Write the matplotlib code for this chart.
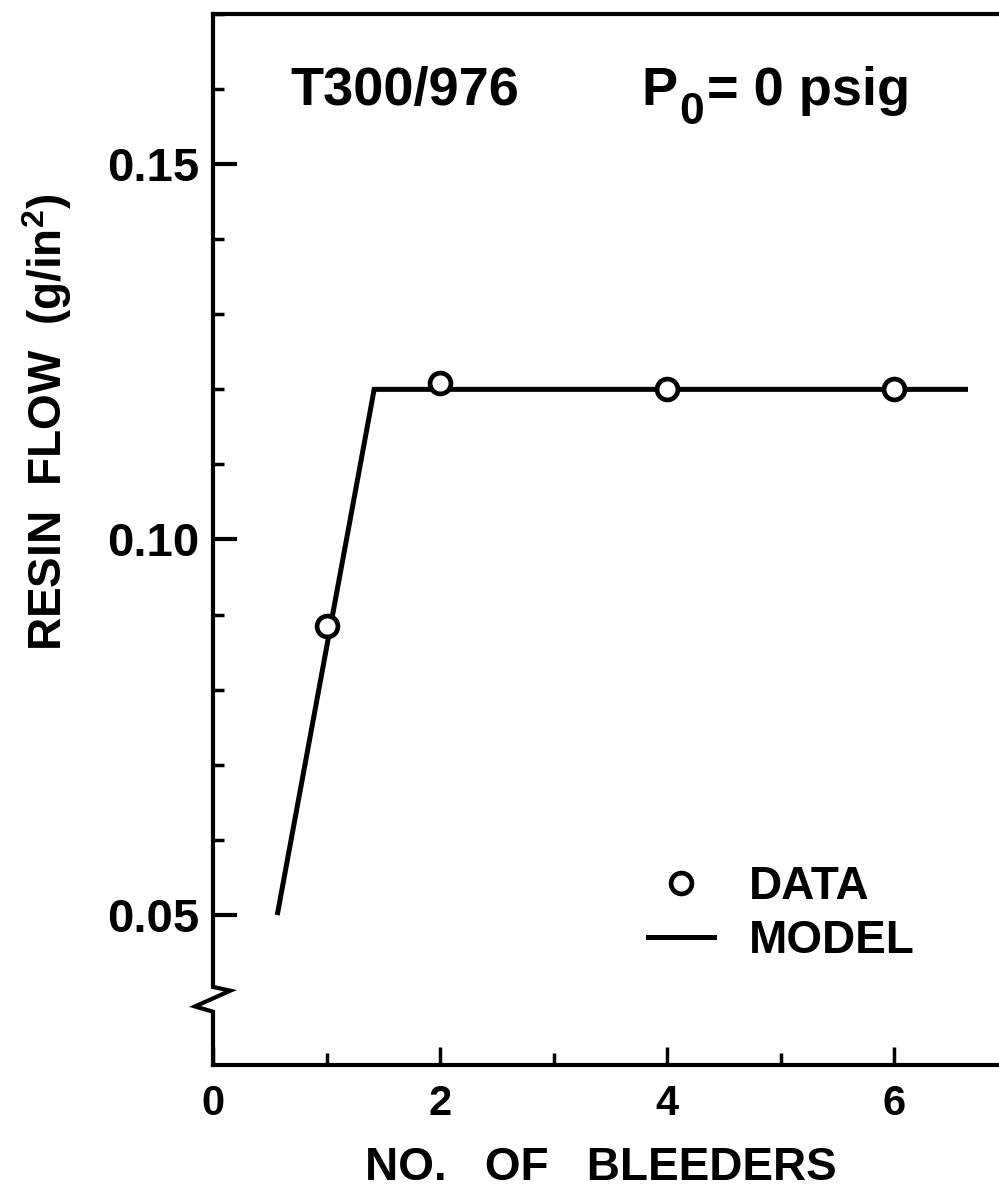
import numpy as np
import matplotlib.pyplot as plt

plt.rcParams['font.family'] = ['Liberation Sans', 'DejaVu Sans']
plt.rcParams['font.weight'] = 'bold'
plt.rcParams['mathtext.fontset'] = 'custom'
plt.rcParams['mathtext.rm'] = 'Liberation Sans:bold'

# data
bleeders = [1, 2, 4, 6]
flow = [0.0885, 0.1208, 0.1201, 0.1201]
model_x = [0.57, 1.42, 6.63]
model_y = [0.0503, 0.1200, 0.1200]

xticks = [0, 2, 4, 6]
yticks = [0.05, 0.10, 0.15]
ytick_labels = ['0.05', '0.10', '0.15']

fig = plt.figure(figsize=(9.99, 11.92), dpi=100)
ax = fig.add_axes([213/999, 1 - 1065/1192, 1 - 213/999, (1065 - 14)/1192])

ax.set_xlim(0, 786/113.5)
ax.set_ylim(0.030, 0.170)

model, = ax.plot(model_x, model_y, color='black', lw=3.6,
                 solid_joinstyle='miter', label='MODEL', zorder=2)
data, = ax.plot(bleeders, flow, ls='none', marker='o', ms=15, mew=3.4,
                mfc='white', mec='black', label='DATA', zorder=3)

# spines
ax.spines['right'].set_visible(False)
ax.spines['left'].set_visible(False)
for s in ['top', 'bottom']:
    ax.spines[s].set_linewidth(3)

# left spine with the axis break
tr = ax.get_yaxis_transform()
brk_x = [0, 0, 0.022, -0.023, 0, 0]
brk_y = [0.170, 0.0404, 0.0399, 0.0378, 0.0371, 0.030]
ax.plot(brk_x, brk_y, color='black', lw=3, transform=tr, clip_on=False,
        solid_joinstyle='miter', zorder=5)

ax.set_xticks(xticks)
ax.set_xticks([1, 3, 5], minor=True)
ax.set_yticks(yticks)
ax.set_yticklabels(ytick_labels)
ax.set_yticks(np.arange(0.06, 0.17, 0.01), minor=True)

ax.tick_params(axis='x', which='major', direction='in', length=13, width=2.5,
               labelsize=30, pad=14)
ax.tick_params(axis='x', which='minor', direction='in', length=9, width=2.5)
ax.tick_params(axis='y', which='major', direction='in', length=17, width=3,
               labelsize=34, pad=10)
ax.tick_params(axis='y', which='minor', direction='in', length=8, width=2.5)

fig.text(601/999, 2/1192, 'NO.   OF   BLEEDERS', ha='center',
         va='bottom', fontsize=33, fontweight='bold')
fig.text(0.047, 1 - 422/1192, r'RESIN  FLOW  (g/in$^\mathregular{2}$)',
         rotation=90, ha='center', va='center', fontsize=33, fontweight='bold')

ax.text(0.098, 0.9134, 'T300/976', transform=ax.transAxes, fontsize=39,
        fontweight='bold', va='baseline')

# P0 = 0 psig, with a large, low subscript
tp = ax.text(0.545, 0.9134, 'P', transform=ax.transAxes, fontsize=39,
             fontweight='bold', va='baseline')
t0 = ax.annotate('0', xy=(1, 0), xycoords=tp, xytext=(1.5, -12),
                 textcoords='offset points', fontsize=32, fontweight='bold',
                 va='bottom')
ax.annotate('= 0 psig', xy=(1, 0), xycoords=(t0, tp), xytext=(2, 0),
            textcoords='offset points', fontsize=39, fontweight='bold',
            va='bottom')

ax.legend(handles=[data, model], loc='lower left', bbox_to_anchor=(0.53, 0.08),
          frameon=False, fontsize=33, handlelength=1.45, handletextpad=0.75,
          labelspacing=0.2, borderaxespad=0)

fig.savefig('out.png', dpi=100)
